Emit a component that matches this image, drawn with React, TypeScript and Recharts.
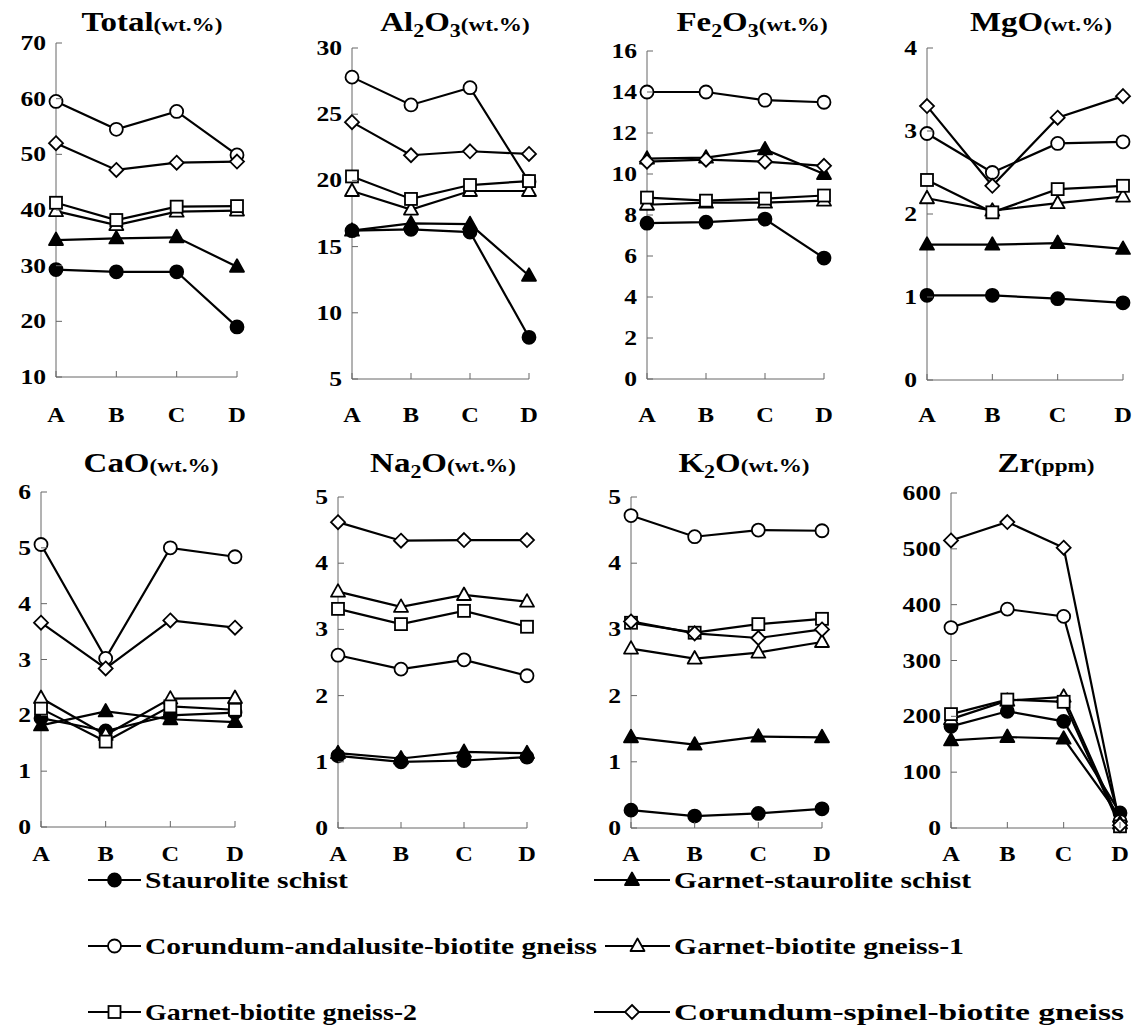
import React from 'react';
import { LineChart, Line, XAxis, YAxis } from 'recharts';

// sample positions
const categories = ['A', 'B', 'C', 'D'];

const seriesNames = [
  'Staurolite schist',
  'Garnet-staurolite schist',
  'Corundum-andalusite-biotite gneiss',
  'Garnet-biotite gneiss-1',
  'Garnet-biotite gneiss-2',
  'Corundum-spinel-biotite gneiss',
];
const seriesShapes = ['circleFilled', 'triangleFilled', 'circle', 'triangle', 'square', 'diamond'];

// rows follow seriesNames order, columns follow categories
const totalRows = [
  [29.3, 28.9, 28.9, 19.0],
  [34.6, 34.9, 35.1, 29.8],
  [59.5, 54.5, 57.7, 49.9],
  [39.8, 37.3, 39.7, 39.9],
  [41.3, 38.2, 40.6, 40.7],
  [52.0, 47.2, 48.5, 48.7],
];
const al2o3Rows = [
  [16.2, 16.3, 16.1, 8.15],
  [16.2, 16.75, 16.7, 12.8],
  [27.8, 25.7, 27.0, 19.9],
  [19.2, 17.8, 19.2, 19.2],
  [20.3, 18.6, 19.65, 19.95],
  [24.4, 21.9, 22.2, 22.0],
];
const fe2o3Rows = [
  [7.6, 7.65, 7.8, 5.9],
  [10.75, 10.8, 11.2, 10.0],
  [14.0, 14.0, 13.6, 13.5],
  [8.5, 8.6, 8.6, 8.7],
  [8.85, 8.7, 8.8, 8.95],
  [10.6, 10.7, 10.6, 10.4],
];
const mgoRows = [
  [1.02, 1.02, 0.98, 0.93],
  [1.63, 1.63, 1.65, 1.58],
  [2.97, 2.5, 2.85, 2.87],
  [2.19, 2.04, 2.13, 2.21],
  [2.41, 2.02, 2.3, 2.34],
  [3.3, 2.34, 3.16, 3.42],
];
const caoRows = [
  [1.95, 1.72, 2.0, 2.05],
  [1.82, 2.07, 1.93, 1.88],
  [5.06, 3.02, 5.0, 4.84],
  [2.31, 1.65, 2.3, 2.31],
  [2.12, 1.53, 2.16, 2.1],
  [3.66, 2.84, 3.7, 3.57],
];
const na2oRows = [
  [1.09, 1.0, 1.02, 1.07],
  [1.13, 1.05, 1.15, 1.13],
  [2.61, 2.4, 2.54, 2.3],
  [3.57, 3.34, 3.52, 3.42],
  [3.31, 3.08, 3.28, 3.04],
  [4.62, 4.34, 4.35, 4.35],
];
const k2oRows = [
  [0.27, 0.18, 0.22, 0.29],
  [1.37, 1.26, 1.38, 1.37],
  [4.72, 4.4, 4.5, 4.49],
  [2.71, 2.56, 2.65, 2.81],
  [3.1, 2.95, 3.08, 3.16],
  [3.12, 2.94, 2.87, 3.0],
];
const zrRows = [
  [182, 209, 191, 27],
  [157, 163, 160, 20],
  [359, 392, 379, 12],
  [195, 228, 235, 8],
  [204, 230, 226, 3],
  [515, 548, 502, 5],
];

// tick labels
const totalTicks = [10, 20, 30, 40, 50, 60, 70];
const al2o3Ticks = [5, 10, 15, 20, 25, 30];
const fe2o3Ticks = [0, 2, 4, 6, 8, 10, 12, 14, 16];
const mgoTicks = [0, 1, 2, 3, 4];
const caoTicks = [0, 1, 2, 3, 4, 5, 6];
const na2oTicks = [0, 1, 2, 3, 4, 5];
const k2oTicks = [0, 1, 2, 3, 4, 5];
const zrTicks = [0, 100, 200, 300, 400, 500, 600];

const FONT = '"Liberation Serif", serif';
// the scanned figure is a little wider than tall, so text gets stretched sideways
const STRETCH = 1.22;

const Marker = ({ shape, cx, cy }: { shape: string; cx: number; cy: number }) => {
  const sw = 1.8;
  switch (shape) {
    case 'circleFilled':
      return <circle cx={cx} cy={cy} r={6.5} fill="#000" stroke="#000" strokeWidth={sw} />;
    case 'circle':
      return <circle cx={cx} cy={cy} r={6.5} fill="#fff" stroke="#000" strokeWidth={sw} />;
    case 'triangleFilled':
      return <polygon points={`${cx},${cy - 7.5} ${cx + 7},${cy + 5} ${cx - 7},${cy + 5}`} fill="#000" stroke="#000" strokeWidth={sw} strokeLinejoin="round" />;
    case 'triangle':
      return <polygon points={`${cx},${cy - 7.5} ${cx + 7},${cy + 5} ${cx - 7},${cy + 5}`} fill="#fff" stroke="#000" strokeWidth={sw} strokeLinejoin="round" />;
    case 'square':
      return <rect x={cx - 6} y={cy - 6} width={12} height={12} fill="#fff" stroke="#000" strokeWidth={sw} />;
    default:
      return <polygon points={`${cx},${cy - 7} ${cx + 7},${cy} ${cx},${cy + 7} ${cx - 7},${cy}`} fill="#fff" stroke="#000" strokeWidth={sw} />;
  }
};

const YTick = (props: any) => {
  const { x, y, payload } = props;
  return (
    <g>
      <line x1={x} y1={y} x2={x + 6} y2={y} stroke="#666" strokeWidth={1} />
      <text
        transform={`translate(${x - 10},${y + 7}) scale(${STRETCH},1)`}
        textAnchor="end"
        fontFamily={FONT}
        fontWeight="bold"
        fontSize={21}
        fill="#000"
      >
        {payload.value}
      </text>
    </g>
  );
};

const makeXTick = (labelOffset: number) => (props: any) => {
  const { x, y, payload } = props;
  return (
    <g>
      <line x1={x} y1={y} x2={x} y2={y - 6} stroke="#666" strokeWidth={1} />
      <text
        transform={`translate(${x},${y + labelOffset + 7}) scale(${STRETCH},1)`}
        textAnchor="middle"
        fontFamily={FONT}
        fontWeight="bold"
        fontSize={20}
        fill="#000"
      >
        {payload.value}
      </text>
    </g>
  );
};

interface PanelProps {
  rows: number[][];
  ticks: number[];
  left: number;
  right: number;
  top: number;
  bottom: number;
  labelOffset: number;
}

const Panel: React.FC<PanelProps> = ({ rows, ticks, left, right, top, bottom, labelOffset }) => {
  const data = categories.map((c, i) => {
    const d: any = { cat: c };
    rows.forEach((r, k) => { d['s' + k] = r[i]; });
    return d;
  });
  const axisW = 60;
  const axisH = 50;
  const width = right - left + axisW + 12;
  const height = bottom - top + axisH + 12;
  return (
    <div style={{ position: 'absolute', left: left - axisW, top: top - 12 }}>
      <LineChart width={width} height={height} data={data} margin={{ top: 12, right: 12, left: 0, bottom: 0 }}>
        <XAxis
          dataKey="cat"
          height={axisH}
          tickSize={0}
          tickMargin={0}
          tick={makeXTick(labelOffset)}
          axisLine={{ stroke: '#666', strokeWidth: 1 }}
          tickLine={false}
          interval={0}
        />
        <YAxis
          width={axisW}
          type="number"
          domain={[ticks[0], ticks[ticks.length - 1]]}
          ticks={ticks}
          tickSize={0}
          tickMargin={0}
          tick={<YTick />}
          axisLine={{ stroke: '#666', strokeWidth: 1 }}
          tickLine={false}
          interval={0}
        />
        {rows.map((_, k) => (
          <Line
            key={k}
            dataKey={'s' + k}
            type="linear"
            stroke="#000"
            strokeWidth={2.2}
            isAnimationActive={false}
            dot={(p: any) => <Marker key={p.key ?? `${k}-${p.index}`} shape={seriesShapes[k]} cx={p.cx} cy={p.cy} />}
            activeDot={false}
          />
        ))}
      </LineChart>
    </div>
  );
};

const Title = ({ cx, baseline, children }: { cx: number; baseline: number; children: React.ReactNode }) => (
  <div
    style={{
      position: 'absolute',
      left: cx - 120,
      width: 240,
      top: baseline - 23,
      textAlign: 'center',
      fontFamily: FONT,
      fontWeight: 'bold',
      fontSize: 27,
      lineHeight: '27px',
      whiteSpace: 'nowrap',
      transform: `scaleX(${STRETCH})`,
      transformOrigin: 'center',
    }}
  >
    {children}
  </div>
);

const Sub = ({ children }: { children: React.ReactNode }) => (
  <span style={{ fontSize: 18, position: 'relative', top: 6 }}>{children}</span>
);
const Unit = ({ children }: { children: React.ReactNode }) => (
  <span style={{ fontSize: 19 }}>{children}</span>
);

// legend placement: [line start, line end, text start, text width, row centre]
const legendSpots = [
  [88, 141, 145, 203, 880],
  [594, 670, 674, 297, 880],
  [88, 141, 145, 452, 946],
  [605, 670, 674, 290, 946],
  [88, 141, 145, 272, 1012],
  [594, 670, 674, 450, 1012],
];

const Legend = () => (
  <svg style={{ position: 'absolute', left: 0, top: 0 }} width={1132} height={1035}>
    {legendSpots.map(([x1, x2, tx, tw, cy], k) => (
      <g key={k}>
        <line x1={x1} y1={cy} x2={x2} y2={cy} stroke="#000" strokeWidth={2} />
        <Marker shape={seriesShapes[k]} cx={(x1 + x2) / 2} cy={cy} />
        <text
          x={tx}
          y={cy + 8}
          textLength={tw}
          lengthAdjust="spacingAndGlyphs"
          fontFamily={FONT}
          fontWeight="bold"
          fontSize={24}
          fill="#000"
        >
          {seriesNames[k]}
        </text>
      </g>
    ))}
  </svg>
);

export default function App() {
  return (
    <div style={{ position: 'absolute', left: 0, top: 0, width: 1132, height: 1035, background: '#fff', overflow: 'hidden' }}>
      <Panel rows={totalRows} ticks={totalTicks} left={56} right={237} top={43} bottom={377} labelOffset={38} />
      <Panel rows={al2o3Rows} ticks={al2o3Ticks} left={352} right={529} top={48} bottom={379} labelOffset={36} />
      <Panel rows={fe2o3Rows} ticks={fe2o3Ticks} left={647} right={824} top={51} bottom={379} labelOffset={36} />
      <Panel rows={mgoRows} ticks={mgoTicks} left={927} right={1123} top={48} bottom={380} labelOffset={35} />
      <Panel rows={caoRows} ticks={caoTicks} left={41} right={235} top={492} bottom={827} labelOffset={27} />
      <Panel rows={na2oRows} ticks={na2oTicks} left={338} right={527} top={497} bottom={828} labelOffset={26} />
      <Panel rows={k2oRows} ticks={k2oTicks} left={631} right={822} top={497} bottom={828} labelOffset={26} />
      <Panel rows={zrRows} ticks={zrTicks} left={951} right={1120} top={493} bottom={828} labelOffset={26} />

      <Title cx={152} baseline={32}>Total<Unit>(wt.%)</Unit></Title>
      <Title cx={455} baseline={32}>Al<Sub>2</Sub>O<Sub>3</Sub><Unit>(wt.%)</Unit></Title>
      <Title cx={752} baseline={32}>Fe<Sub>2</Sub>O<Sub>3</Sub><Unit>(wt.%)</Unit></Title>
      <Title cx={1041} baseline={32}>MgO<Unit>(wt.%)</Unit></Title>
      <Title cx={151} baseline={473}>CaO<Unit>(wt.%)</Unit></Title>
      <Title cx={443} baseline={473}>Na<Sub>2</Sub>O<Unit>(wt.%)</Unit></Title>
      <Title cx={744} baseline={473}>K<Sub>2</Sub>O<Unit>(wt.%)</Unit></Title>
      <Title cx={1046} baseline={473}>Zr<Unit>(ppm)</Unit></Title>

      <Legend />
    </div>
  );
}
